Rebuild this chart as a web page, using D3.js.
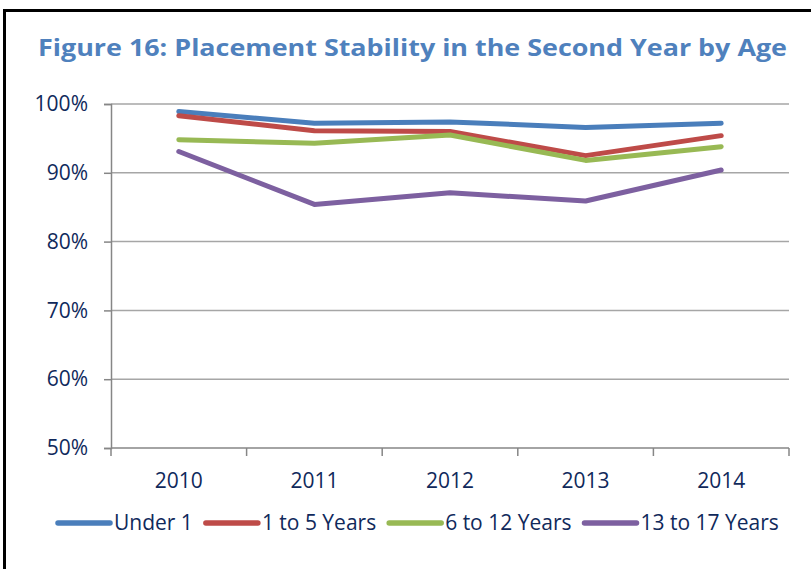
<!DOCTYPE html>
<html>
<head>
<meta charset="utf-8">
<script src="https://cdnjs.cloudflare.com/ajax/libs/d3/7.8.5/d3.min.js"></script>
<style>
  body { margin: 0; background: #fff; }
  svg { display: block; font-family: "Open Sans", sans-serif; }
</style>
</head>
<body>
<div id="chart"></div>
<script>
// data
var years = ["2010", "2011", "2012", "2013", "2014"];
var seriesNames = ["Under 1", "1 to 5 Years", "6 to 12 Years", "13 to 17 Years"];
var under1 = [98.9, 97.2, 97.4, 96.6, 97.2];
var age1to5 = [98.3, 96.1, 96.0, 92.5, 95.4];
var age6to12 = [94.8, 94.3, 95.5, 91.8, 93.8];
var age13to17 = [93.1, 85.4, 87.1, 85.9, 90.4];
var yTicks = [50, 60, 70, 80, 90, 100];
var colors = ["#4a7ebb", "#be4b48", "#98b954", "#7d60a0"];

var allSeries = [under1, age1to5, age6to12, age13to17];

var W = 811, H = 569;
var margin = {top: 104, right: 22, bottom: 121, left: 111},
    width = W - margin.left - margin.right,
    height = H - margin.top - margin.bottom;

var svg = d3.select("#chart").append("svg")
    .attr("width", W)
    .attr("height", H);

// outer frame
svg.append("path")
    .attr("d", "M4.5," + H + "V10.5H" + W)
    .attr("fill", "none")
    .attr("stroke", "#000")
    .attr("stroke-width", 3);

svg.append("text")
    .attr("x", 38)
    .attr("y", 56)
    .attr("font-size", 24)
    .attr("font-weight", "bold")
    .attr("fill", "#4f81bd")
    .attr("textLength", 749)
    .attr("lengthAdjust", "spacingAndGlyphs")
    .text("Figure 16: Placement Stability in the Second Year by Age");

var g = svg.append("g")
    .attr("transform", "translate(" + margin.left + "," + margin.top + ")");

var x = d3.scaleBand().domain(years).range([0, width]);
var y = d3.scaleLinear().domain([50, 100]).range([height, 0]);

// gridlines
g.selectAll(".grid").data(yTicks.slice(1)).enter().append("line")
    .attr("class", "grid")
    .attr("x1", 0).attr("x2", width)
    .attr("y1", function(d) { return y(d); })
    .attr("y2", function(d) { return y(d); })
    .attr("stroke", "#a6a6a6")
    .attr("stroke-width", 1.5);

// y axis
var yAxis = g.append("g")
    .call(d3.axisLeft(y).tickValues(yTicks).tickSize(7).tickPadding(16)
        .tickFormat(function(d) { return d + "%"; }));
yAxis.select(".domain").attr("stroke", "#868686").attr("stroke-width", 1.5);
yAxis.selectAll(".tick line").attr("stroke", "#868686").attr("stroke-width", 1.5);
yAxis.selectAll("text")
    .attr("font-size", 21)
    .attr("fill", "#10295b")
    .attr("font-family", "Open Sans, sans-serif");

// x axis: line, boundary ticks, centred labels
var xg = g.append("g").attr("transform", "translate(0," + height + ")");
xg.append("line")
    .attr("x1", 0).attr("x2", width)
    .attr("stroke", "#868686").attr("stroke-width", 1.5);
var bounds = years.map(function(d) { return x(d); }).concat([width]);
xg.selectAll(".xt").data(bounds).enter().append("line")
    .attr("class", "xt")
    .attr("x1", function(d) { return d; })
    .attr("x2", function(d) { return d; })
    .attr("y1", 0).attr("y2", 8)
    .attr("stroke", "#868686").attr("stroke-width", 1.5);
xg.selectAll(".xl").data(years).enter().append("text")
    .attr("class", "xl")
    .attr("x", function(d) { return x(d) + x.bandwidth() / 2; })
    .attr("y", 40)
    .attr("text-anchor", "middle")
    .attr("font-size", 21)
    .attr("fill", "#10295b")
    .text(function(d) { return d; });

// lines
var line = d3.line()
    .x(function(d, i) { return x(years[i]) + x.bandwidth() / 2; })
    .y(function(d) { return y(d); });

g.selectAll(".series").data(allSeries).enter().append("path")
    .attr("class", "series")
    .attr("d", line)
    .attr("fill", "none")
    .attr("stroke", function(d, i) { return colors[i]; })
    .attr("stroke-width", 5)
    .attr("stroke-linejoin", "round")
    .attr("stroke-linecap", "round");

// legend
var legend = svg.append("g");
var lx = 58, ly = 523;
seriesNames.forEach(function(name, i) {
    legend.append("line")
        .attr("x1", lx).attr("x2", lx + 52)
        .attr("y1", ly).attr("y2", ly)
        .attr("stroke", colors[i])
        .attr("stroke-width", 5.5)
        .attr("stroke-linecap", "round");
    var t = legend.append("text")
        .attr("x", lx + 56)
        .attr("y", ly + 7)
        .attr("font-size", 21)
        .attr("fill", "#10295b")
        .text(name);
    lx = lx + 56 + t.node().getComputedTextLength() + 13;
});
</script>
</body>
</html>
